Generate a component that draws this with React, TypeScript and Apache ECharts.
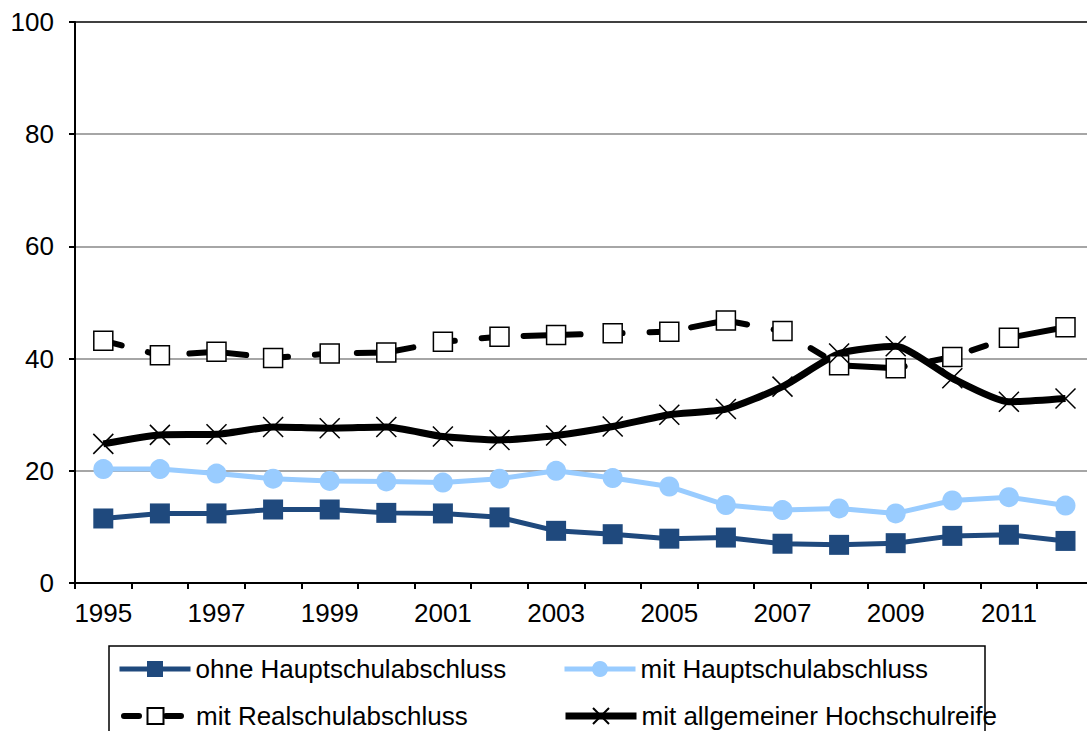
import React, { useEffect, useRef } from "react";
import * as echarts from "echarts";

const years = ["1995","1996","1997","1998","1999","2000","2001","2002","2003","2004","2005","2006","2007","2008","2009","2010","2011","2012"];
const ohneHS = [11.5, 12.4, 12.4, 13.1, 13.1, 12.5, 12.4, 11.7, 9.3, 8.7, 7.9, 8.1, 7.0, 6.8, 7.1, 8.4, 8.6, 7.5];
const mitHS = [20.3, 20.3, 19.5, 18.6, 18.2, 18.1, 17.9, 18.6, 20.0, 18.7, 17.2, 13.9, 13.0, 13.3, 12.4, 14.7, 15.3, 13.8];
const mitRS = [43.2, 40.6, 41.2, 40.1, 40.9, 41.1, 43.0, 43.9, 44.2, 44.5, 44.8, 46.8, 44.9, 38.8, 38.3, 40.3, 43.7, 45.6];
const mitAH = [24.8, 26.4, 26.5, 27.8, 27.6, 27.8, 26.1, 25.5, 26.3, 27.9, 30.0, 31.0, 35.0, 40.9, 42.2, 36.5, 32.3, 32.9];
const yTicks = [0, 20, 40, 60, 80, 100];

const names = ["ohne Hauptschulabschluss", "mit Hauptschulabschluss", "mit Realschulabschluss", "mit allgemeiner Hochschulreife"];

const FONT = "'Liberation Sans', Arial, sans-serif";

export default function App() {
  const ref = useRef<HTMLDivElement>(null);
  useEffect(() => {
    if (!ref.current) return;
    const chart = echarts.init(ref.current, null, { renderer: "svg" });
    const legendBase = {
      orient: "horizontal",
      itemWidth: 71,
      itemHeight: 20,
      padding: 0,
      selectedMode: false,
      textStyle: { fontSize: 26, color: "#000", fontFamily: FONT },
    };
    chart.setOption({
      animation: false,
      backgroundColor: "#fff",
      textStyle: { fontFamily: FONT },
      grid: { left: 75, top: 22, width: 1018.8, height: 561, outerBoundsMode: "none", containLabel: false },
      xAxis: {
        type: "category",
        data: years,
        boundaryGap: true,
        axisLine: { lineStyle: { color: "#000", width: 2 } },
        axisTick: { show: true, interval: 0, length: 6, lineStyle: { color: "#000", width: 2 } },
        axisLabel: { interval: 1, margin: 17, fontSize: 26, color: "#000", fontFamily: FONT },
        splitLine: { show: false },
      },
      yAxis: {
        type: "value",
        min: yTicks[0],
        max: yTicks[yTicks.length - 1],
        interval: 20,
        axisLine: { show: true, lineStyle: { color: "#000", width: 2 } },
        axisTick: { show: true, length: 6, lineStyle: { color: "#000", width: 2 } },
        axisLabel: { margin: 21, fontSize: 26, color: "#000", fontFamily: FONT },
        splitLine: {
          show: true,
          lineStyle: { color: ["#888888", "#888888", "#888888", "#888888", "#888888", "#000"], width: 1.5 },
        },
      },
      legend: [
        { ...legendBase, data: [names[0]], left: 117, top: 656, lineStyle: { width: 5 } },
        { ...legendBase, data: [names[1]], left: 562, top: 656, lineStyle: { width: 5 } },
        { ...legendBase, data: [names[2]], left: 117, top: 703, lineStyle: { width: 6 } },
        { ...legendBase, data: [names[3]], left: 562, top: 703, lineStyle: { width: 7 } },
      ],
      graphic: [
        {
          type: "rect",
          shape: { x: 109, y: 646, width: 876, height: 140 },
          style: { fill: "none", stroke: "#000", lineWidth: 1.5 },
          silent: true,
        },
      ],
      series: [
        {
          name: names[0],
          type: "line",
          data: ohneHS,
          symbol: "rect",
          symbolSize: 20,
          itemStyle: { color: "#1F497D" },
          lineStyle: { color: "#1F497D", width: 5 },
        },
        {
          name: names[1],
          type: "line",
          data: mitHS,
          symbol: "circle",
          symbolSize: 20,
          itemStyle: { color: "#99CCFF" },
          lineStyle: { color: "#99CCFF", width: 5 },
        },
        {
          name: names[2],
          type: "line",
          data: mitRS,
          symbol: "rect",
          symbolSize: 19,
          itemStyle: { color: "#fff", borderColor: "#000", borderWidth: 1.5 },
          lineStyle: { color: "#000", width: 6, type: [57, 27, 15, 27, 15, 27], dashOffset: 79.5, cap: "round" },
        },
        {
          name: names[3],
          type: "line",
          data: mitAH,
          smooth: 0.2,
          symbol: "path://M0,0L20,20M20,0L0,20",
          symbolSize: 20,
          itemStyle: { color: "rgba(0,0,0,0)", borderColor: "#000", borderWidth: 1.5 },
          lineStyle: { color: "#000", width: 7 },
        },
      ],
    });
    return () => chart.dispose();
  }, []);
  return (
    <div style={{ position: "fixed", left: 0, top: 0, width: 1087, height: 731, overflow: "hidden", background: "#fff" }}>
      <div ref={ref} style={{ width: 1100, height: 760 }} />
    </div>
  );
}
